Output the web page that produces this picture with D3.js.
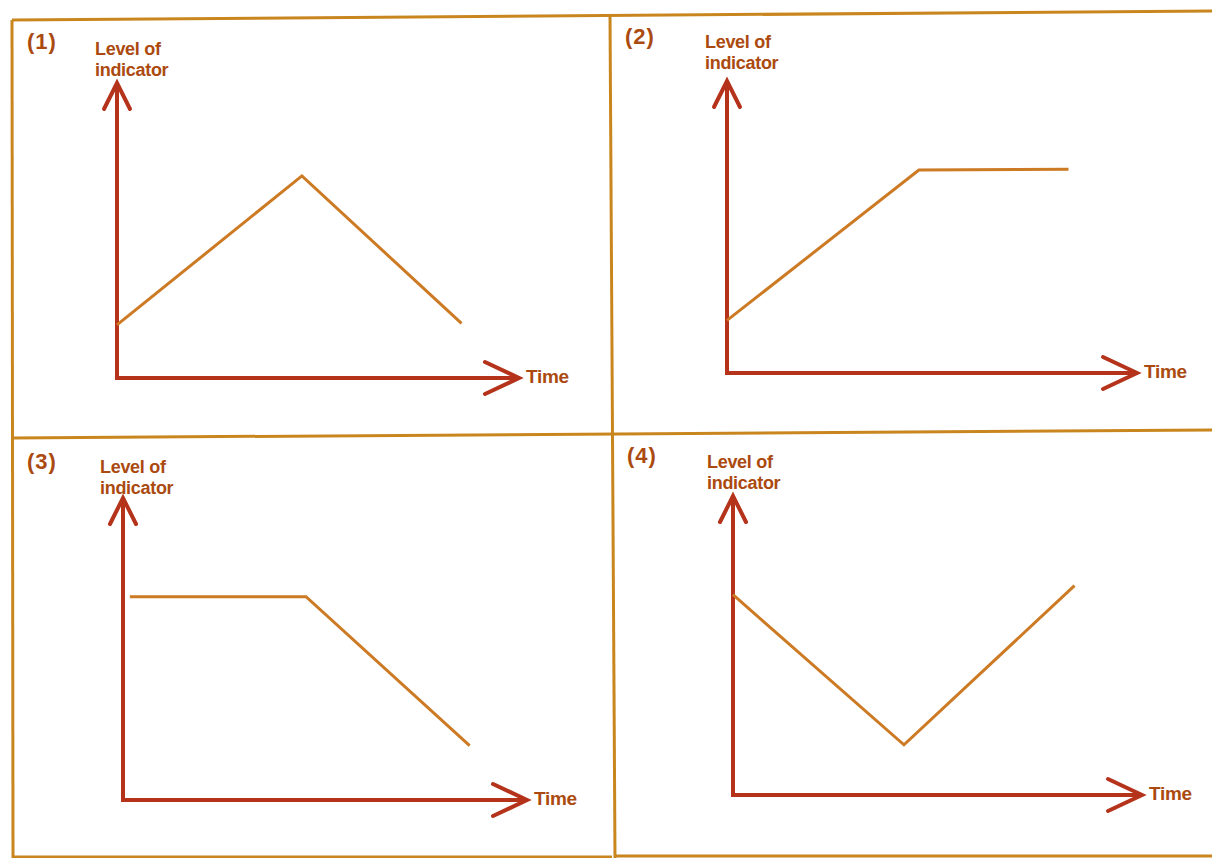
<!DOCTYPE html>
<html>
<head>
<meta charset="utf-8">
<script src="https://cdn.jsdelivr.net/npm/d3@7"></script>
<style>
  body { margin: 0; background: #fff; }
  svg { display: block; }
  text { font-family: "Liberation Sans", Arial, sans-serif; font-weight: bold; fill: #ab4a10; }
</style>
</head>
<body>
<div id="chart"></div>
<script>
// Panel labels and axis titles
const panelLabels = ["(1)", "(2)", "(3)", "(4)"];
const yTitle = ["Level of", "indicator"];
const xTitle = "Time";

// Each series: [time, level] on a 0-10 scale
const series1 = [[0, 1.8], [4.6, 6.85], [8.57, 1.85]];
const series2 = [[0, 1.8], [4.68, 6.95], [8.33, 6.98]];
const series3 = [[0.17, 6.73], [4.53, 6.73], [8.58, 1.8]];
const series4 = [[0, 6.7], [4.18, 1.68], [8.35, 7.0]];
const allSeries = [series1, series2, series3, series4];

const W = 1212, H = 858;
const axisColor = "#b5321b";
const lineColor = "#cd7a24";
const frameColor = "#c9861f";

// panel placement on the page
const panels = [
    { ox: 117, oy: 378, w: 402, h: 295, lx: 27, ly: 49, tx: 95, ty: 55 },
    { ox: 727, oy: 373, w: 410, h: 292, lx: 625, ly: 44, tx: 705, ty: 48 },
    { ox: 123, oy: 800, w: 404, h: 302, lx: 27, ly: 469, tx: 100, ty: 473 },
    { ox: 733, oy: 795, w: 409, h: 299, lx: 627, ly: 463, tx: 707, ty: 468 }
];

const svg = d3.select("#chart")
    .append("svg")
    .attr("width", W)
    .attr("height", H);

// Frame lines (slightly skewed like the scan)
const frame = [
    [[12, 20], [1212, 11]],
    [[12, 438], [1212, 430]],
    [[12, 20], [13, 858]],
    [[610, 14], [615, 858]],
    [[615, 856], [1212, 856]],
    [[12, 857], [612, 857]]
];
frame.forEach(f => {
    svg.append("line")
        .attr("x1", f[0][0]).attr("y1", f[0][1])
        .attr("x2", f[1][0]).attr("y2", f[1][1])
        .attr("stroke", frameColor)
        .attr("stroke-width", 3);
});

panels.forEach((p, i) => {
    const x = d3.scaleLinear().domain([0, 10]).range([p.ox, p.ox + p.w]);
    const y = d3.scaleLinear().domain([0, 10]).range([p.oy, p.oy - p.h]);
    const g = svg.append("g");

    // axes: L shape
    g.append("path")
        .attr("d", `M${x(0)},${y(10)} L${x(0)},${y(0)} L${x(10)},${y(0)}`)
        .attr("fill", "none")
        .attr("stroke", axisColor)
        .attr("stroke-width", 4)
        .attr("stroke-linejoin", "miter");

    // arrow heads
    g.append("path")
        .attr("d", `M${x(0) - 13},${y(10) + 26} L${x(0)},${y(10)} L${x(0) + 13},${y(10) + 26}`)
        .attr("fill", "none")
        .attr("stroke", axisColor)
        .attr("stroke-width", 4)
        .attr("stroke-linecap", "round");
    g.append("path")
        .attr("d", `M${x(10) - 34},${y(0) - 16} L${x(10)},${y(0)} L${x(10) - 34},${y(0) + 16}`)
        .attr("fill", "none")
        .attr("stroke", axisColor)
        .attr("stroke-width", 4)
        .attr("stroke-linecap", "round");

    // data line
    const line = d3.line()
        .x(d => x(d[0]))
        .y(d => y(d[1]));
    g.append("path")
        .datum(allSeries[i])
        .attr("d", line)
        .attr("fill", "none")
        .attr("stroke", lineColor)
        .attr("stroke-width", 3);

    // texts
    g.append("text")
        .attr("x", p.lx)
        .attr("y", p.ly)
        .style("font-size", "22px")
        .style("letter-spacing", "1px")
        .text(panelLabels[i]);

    yTitle.forEach((t, k) => {
        g.append("text")
            .attr("x", p.tx)
            .attr("y", p.ty + k * 21)
            .style("font-size", "18px")
            .style("letter-spacing", "-0.3px")
            .text(t);
    });

    g.append("text")
        .attr("x", x(10) + 7)
        .attr("y", y(0) + 5)
        .style("font-size", "19px")
        .style("letter-spacing", "-0.3px")
        .text(xTitle);
});
</script>
</body>
</html>
